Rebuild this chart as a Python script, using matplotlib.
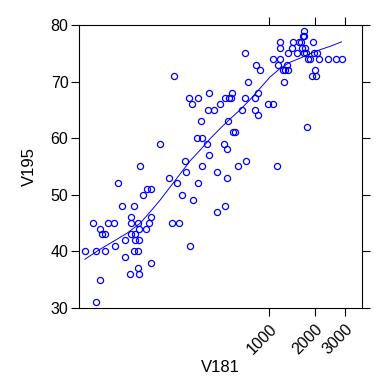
import numpy as np
import matplotlib
matplotlib.use("Agg")
import matplotlib.pyplot as plt

plt.rcParams['font.family'] = ['Liberation Sans', 'DejaVu Sans']

# V181 values (power-transformed axis)
v181 = [10.5, 14.3, 16.2, 16.2, 18.7, 18.7, 19.7, 22.4, 22.6, 24.3,
        30.3, 30.9, 34.4, 39.4, 43.1, 43.1, 50.1, 50.6, 50.6, 50.6,
        56.5, 57.1, 57.1, 55.3, 61.9, 61.9, 62.6, 64.5, 64.5, 63.9,
        66.1, 71.8, 79.9, 88.1, 77.8, 85.1, 88.1, 88.1, 113, 138.5,
        150, 158.4, 168.5, 176.5, 187.4, 200.6, 205, 220.8, 228, 237.4,
        242, 262.2, 270, 266, 287.2, 293, 293, 320.2, 332, 334,
        339, 373.3, 393, 395, 416.9, 449.7, 461, 464, 475, 481,
        487, 494.5, 519.3, 528, 531, 558.4, 586.4, 633.8, 660, 668,
        672, 699.1, 789.3, 789.3, 799, 823, 828, 853.6, 973.8, 1055,
        1055, 1124, 1140, 1179, 1185, 1179, 1235, 1253, 1284, 1327,
        1346, 1340, 1424, 1452, 1527, 1580, 1628, 1644, 1668, 1708,
        1692, 1725, 1741, 1700, 1785, 1810, 1870, 1897, 1944, 1962,
        1980, 2035, 2053, 2100, 2372, 2653, 2860]

v195 = [40, 45, 31, 40, 44, 35, 43, 43, 40, 45,
        45, 41, 52, 48, 42, 39, 36, 46, 45, 43,
        48, 43, 42, 40, 45, 40, 37, 36, 42, 44,
        55, 50, 51, 51, 44, 45, 46, 38, 59, 53,
        45, 71, 52, 45, 50, 56, 54, 67, 41, 66,
        49, 60, 67, 52, 63, 60, 55, 59, 65, 57,
        68, 65, 47, 54, 66, 59, 67, 48, 53, 58,
        63, 67, 67, 68, 61, 61, 55, 65, 67, 75,
        56, 70, 67, 65, 73, 68, 64, 72, 66, 66,
        74, 55, 73, 77, 76, 74, 72, 70, 72, 73,
        72, 75, 76, 77, 75, 77, 77, 76, 78, 79,
        75, 76, 75, 78, 62, 74, 74, 71, 77, 75,
        72, 71, 75, 74, 74, 74, 74]

# smooth curve
smooth_x = [10.5, 18.9, 30.0, 45.4, 66.8, 87.3, 113, 144.3, 181.9, 227.2,
            281.3, 344.5, 419.4, 506.7, 607.2, 724.0, 858.0, 1011, 1185,
            1382, 1600, 1853, 2134, 2449, 2860]
smooth_y = [38.6, 40.4, 41.8, 43.2, 45.0, 47.0, 49.1, 51.4, 53.7, 56.0,
            57.9, 59.9, 61.7, 63.4, 65.0, 66.8, 68.8, 70.8, 72.3,
            73.4, 74.1, 74.9, 75.6, 76.2, 77.0]

p = 0.2


def fwd(x):
    return np.sign(x) * np.abs(x) ** p


def inv(u):
    return np.sign(u) * np.abs(u) ** (1 / p)


fig = plt.figure(figsize=(3.84, 3.83), dpi=100)
ax = fig.add_axes([0.207, 0.196, 0.736, 0.739])
ax.set_xscale('function', functions=(fwd, inv))

ax.plot(v181, v195, 'o', mfc='none', mec='#0000ff', ms=4.4, mew=0.9)
ax.plot(smooth_x, smooth_y, color='#0000ff', lw=0.7)

ax.set_xlim(inv(1.531), inv(5.178))
ax.set_ylim(30, 80)
ax.set_xticks([1000, 2000, 3000])
ax.set_xticklabels(['1000', '2000', '3000'], rotation=45, ha='right',
                   va='top', rotation_mode='anchor')
ax.minorticks_off()
ax.set_yticks([30, 40, 50, 60, 70, 80])
ax.tick_params(direction='out', length=6, width=0.8, labelsize=11.5,
               top=True, right=True, pad=2)
ax.tick_params(axis='x', pad=4)
for s in ax.spines.values():
    s.set_linewidth(0.8)

ax.set_xlabel('V181', fontsize=12, labelpad=2)
ax.set_ylabel('V195', fontsize=12, labelpad=10)

fig.savefig('out.png', dpi=100)
